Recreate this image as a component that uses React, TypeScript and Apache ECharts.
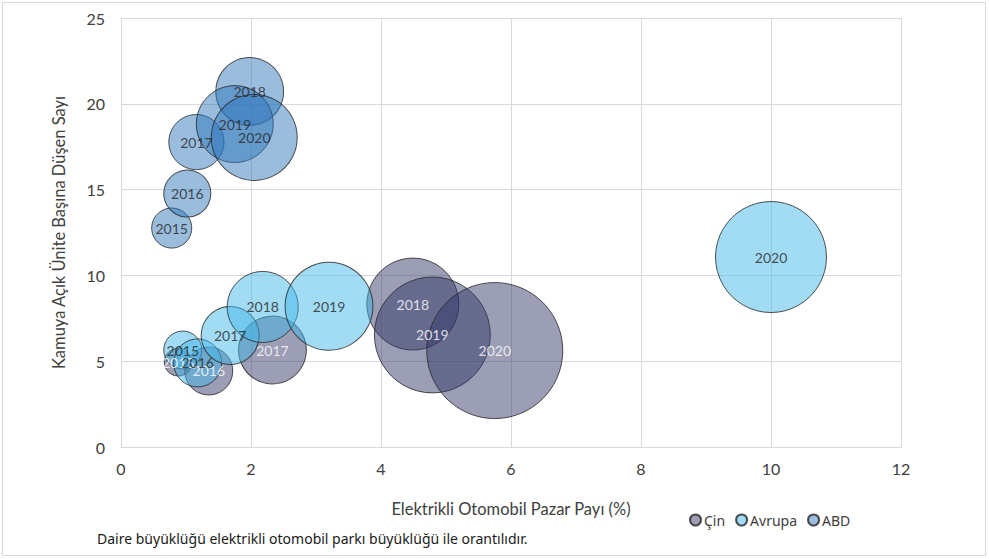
import React, { useEffect, useRef } from "react";
import * as echarts from "echarts";

const years = ["2015", "2016", "2017", "2018", "2019", "2020"];

// Çin: market share (%), chargers per public unit, fleet (million)
const cinShare = [0.88, 1.35, 2.33, 4.49, 4.79, 5.75];
const cinRatio = [4.95, 4.43, 5.65, 8.33, 6.53, 5.62];
const cinFleet = [0.19, 0.56, 1.12, 2.06, 3.27, 4.5];

const avrShare = [0.95, 1.18, 1.68, 2.18, 3.2, 10.0];
const avrRatio = [5.65, 4.9, 6.5, 8.16, 8.2, 11.07];
const avrFleet = [0.35, 0.56, 0.82, 1.23, 1.88, 3.0];

const abdShare = [0.78, 1.02, 1.16, 1.98, 1.75, 2.05];
const abdRatio = [12.76, 14.77, 17.77, 20.72, 18.82, 18.04];
const abdFleet = [0.39, 0.54, 0.74, 1.12, 1.44, 1.8];

const seriesNames = ["Çin", "Avrupa", "ABD"];

const build = (xs: number[], ys: number[], ss: number[]) =>
  xs.map((x, i) => [x, ys[i], ss[i], years[i]]);

const sizeFn = (v: any) => 64.1 * Math.sqrt(v[2]);

export default function App() {
  const ref = useRef<HTMLDivElement>(null);
  useEffect(() => {
    if (!ref.current) return;
    const chart = echarts.init(ref.current, null, { renderer: "svg" });
    const font = "Lato, 'Open Sans', sans-serif";
    const mk = (name: string, data: any[], color: string, labelColor: string) => ({
      name,
      type: "scatter",
      data,
      symbolSize: sizeFn,
      itemStyle: { color, borderColor: "#262626", borderWidth: 1 },
      label: {
        show: true,
        position: "inside",
        formatter: (p: any) => p.data[3],
        color: labelColor,
        fontSize: 14,
        fontFamily: font,
      },
      emphasis: { disabled: true },
    });
    chart.setOption({
      animation: false,
      backgroundColor: "#ffffff",
      grid: { left: 121, right: 88, top: 18, bottom: 112 },
      xAxis: {
        type: "value",
        min: 0,
        max: 12,
        interval: 2,
        name: "Elektrikli Otomobil Pazar Payı (%)",
        nameLocation: "middle",
        nameGap: 53,
        nameTextStyle: { color: "#404040", fontSize: 16.5, fontFamily: font },
        axisLine: { show: true, lineStyle: { color: "#d9d9d9" } },
        axisTick: { show: false },
        axisLabel: { color: "#404040", fontSize: 16, fontFamily: font, margin: 13 },
        splitLine: { show: true, lineStyle: { color: "#d9d9d9" } },
      },
      yAxis: {
        type: "value",
        min: 0,
        max: 25,
        interval: 5,
        name: "Kamuya Açık Ünite Başına Düşen Sayı",
        nameLocation: "middle",
        nameGap: 54,
        nameTextStyle: { color: "#404040", fontSize: 16.5, fontFamily: font },
        axisLine: { show: true, lineStyle: { color: "#d9d9d9" } },
        axisTick: { show: false },
        axisLabel: { color: "#404040", fontSize: 16, fontFamily: font, margin: 16 },
        splitLine: { show: true, lineStyle: { color: "#d9d9d9" } },
      },
      legend: {
        data: seriesNames,
        left: 684,
        top: 508,
        icon: "circle",
        itemWidth: 11,
        itemHeight: 11,
        itemGap: 10,
        textStyle: { color: "#404040", fontSize: 14, fontFamily: "'Noto Sans', sans-serif", padding: [0, 0, 0, -2] },
      },
      graphic: [
        {
          type: "rect",
          shape: { x: 2.5, y: 2.5, width: 983, height: 553 },
          style: { fill: "none", stroke: "#d9d9d9", lineWidth: 1 },
          silent: true,
        },
        {
          type: "text",
          left: 97,
          top: 531,
          style: {
            text: "Daire büyüklüğü elektrikli otomobil parkı büyüklüğü ile orantılıdır.",
            fill: "#1a1a1a",
            fontSize: 14,
            fontFamily: "'Noto Sans', sans-serif",
          },
        },
      ],
      series: [
        mk("Çin", build(cinShare, cinRatio, cinFleet), "rgba(45,52,100,0.6)", "#ffffff"),
        mk("Avrupa", build(avrShare, avrRatio, avrFleet), "rgba(66,182,232,0.62)", "#262626"),
        mk("ABD", build(abdShare, abdRatio, abdFleet), "rgba(44,118,186,0.6)", "#262626"),
      ],
    });
    return () => chart.dispose();
  }, []);
  return (
    <div
      ref={ref}
      style={{ position: "fixed", left: 0, top: 0, width: 989, height: 559 }}
    />
  );
}
